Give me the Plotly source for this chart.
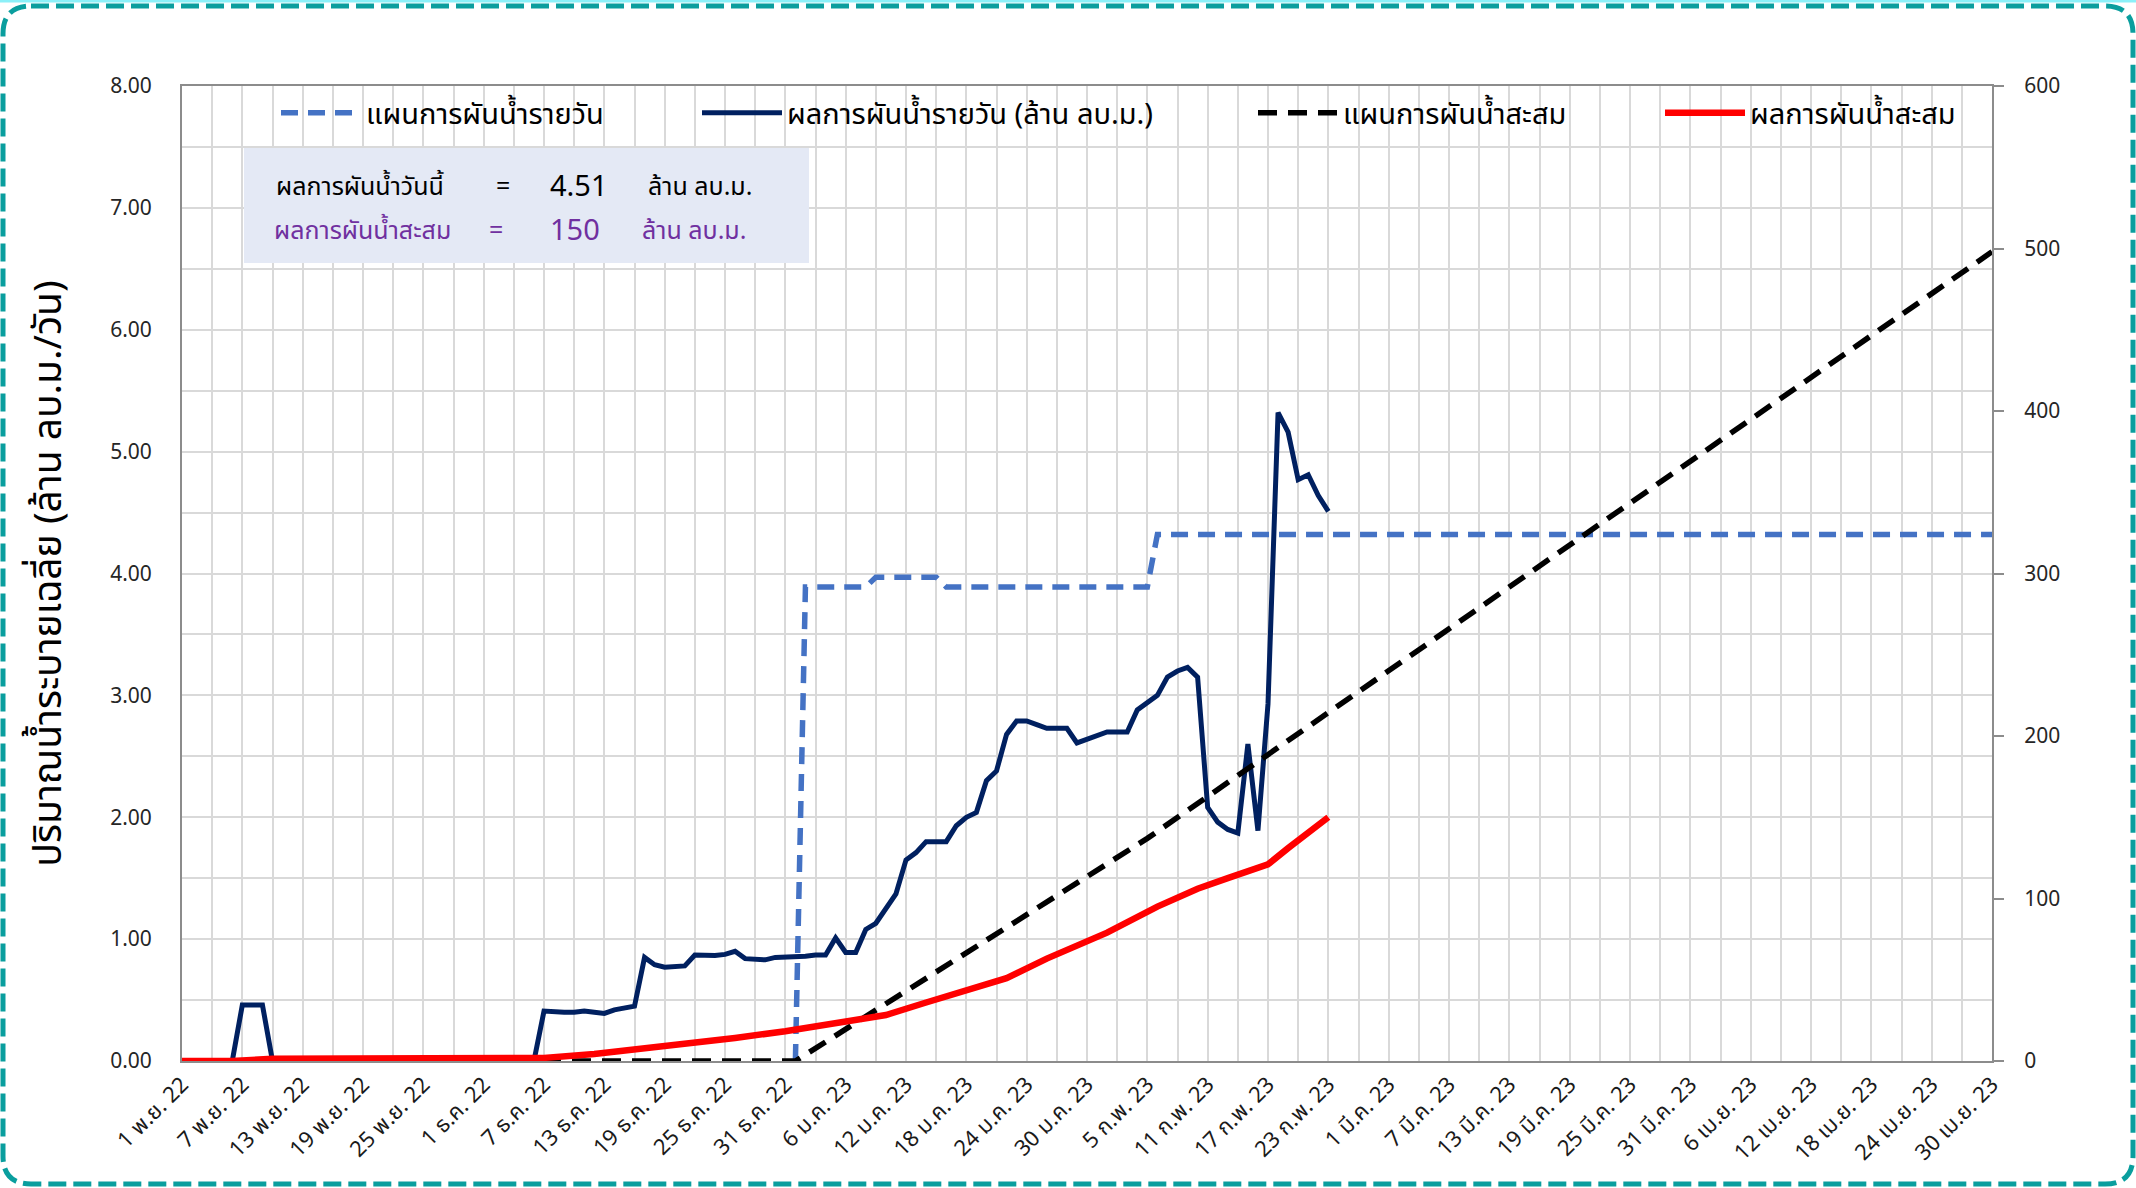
import pandas as pd
import plotly.graph_objects as go

# ---------------- data ----------------
# daily actual diversion (million m3/day), 1 Nov 2022 .. 23 Feb 2023
actual_daily = [
    0, 0, 0, 0, 0, 0, 0.46, 0.46, 0.46, 0,
    0, 0, 0, 0, 0, 0, 0, 0, 0, 0,
    0, 0, 0, 0, 0, 0, 0, 0, 0, 0,
    0, 0, 0, 0, 0, 0, 0.41, 0.40, 0.40, 0.40,
    0.41, 0.40, 0.39, 0.42, 0.43, 0.45, 0.85, 0.79, 0.77, 0.78,
    0.78, 0.87, 0.865, 0.865, 0.875, 0.90, 0.84, 0.83, 0.83, 0.85,
    0.85, 0.85, 0.86, 0.87, 0.87, 1.01, 0.89, 0.89, 1.08, 1.13,
    1.25, 1.37, 1.65, 1.71, 1.80, 1.80, 1.80, 1.93, 2.00, 2.04,
    2.30, 2.38, 2.68, 2.79, 2.79, 2.76, 2.73, 2.73, 2.73, 2.61,
    2.64, 2.67, 2.70, 2.70, 2.70, 2.88, 2.94, 3.00, 3.15, 3.20,
    3.23, 3.15, 2.08, 1.96, 1.90, 1.87, 2.60, 1.89, 2.93, 5.32,
    5.16, 4.77, 4.81, 4.64, 4.51,
]
actual_daily_dates = pd.date_range("2022-11-01", periods=len(actual_daily), freq="D")

# daily plan (million m3/day)
plan_daily_dates = ["2023-01-01", "2023-01-02", "2023-01-08", "2023-01-09", "2023-01-15",
                    "2023-01-16", "2023-02-05", "2023-02-06", "2023-04-30"]
plan_daily = [0, 3.89, 3.89, 3.97, 3.97, 3.89, 3.89, 4.32, 4.32]

# cumulative plan (million m3)
plan_cum_dates = ["2022-11-01", "2023-01-01", "2023-02-05", "2023-04-30"]
plan_cum = [0, 0, 137, 498]

# cumulative actual (million m3)
actual_cum_dates = ["2022-11-01", "2022-11-06", "2022-11-10", "2022-12-06", "2022-12-07",
                    "2022-12-12", "2022-12-16", "2022-12-21", "2022-12-26", "2022-12-31",
                    "2023-01-05", "2023-01-10", "2023-01-14", "2023-01-19", "2023-01-22",
                    "2023-01-26", "2023-02-01", "2023-02-06", "2023-02-10", "2023-02-13",
                    "2023-02-17", "2023-02-19", "2023-02-23"]
actual_cum = [0, 0, 1.4, 1.5, 1.9, 4.3, 7.0, 10.4, 14.2, 18.3, 22.8, 28.3, 36.0, 45.0,
              51.0, 63.0, 79.0, 95.0, 106.0, 112.5, 121.0, 131.0, 150.0]

tick_dates = pd.date_range("2022-11-01", "2023-04-30", freq="6D")
tick_labels = [
    "1 พ.ย. 22", "7 พ.ย. 22", "13 พ.ย. 22", "19 พ.ย. 22", "25 พ.ย. 22",
    "1 ธ.ค. 22", "7 ธ.ค. 22", "13 ธ.ค. 22", "19 ธ.ค. 22", "25 ธ.ค. 22", "31 ธ.ค. 22",
    "6 ม.ค. 23", "12 ม.ค. 23", "18 ม.ค. 23", "24 ม.ค. 23", "30 ม.ค. 23",
    "5 ก.พ. 23", "11 ก.พ. 23", "17 ก.พ. 23", "23 ก.พ. 23",
    "1 มี.ค. 23", "7 มี.ค. 23", "13 มี.ค. 23", "19 มี.ค. 23", "25 มี.ค. 23", "31 มี.ค. 23",
    "6 เม.ย. 23", "12 เม.ย. 23", "18 เม.ย. 23", "24 เม.ย. 23", "30 เม.ย. 23",
]

series_names = ["แผนการผันน้ำรายวัน", "ผลการผันน้ำรายวัน (ล้าน ลบ.ม.)",
                "แผนการผันน้ำสะสม", "ผลการผันน้ำสะสม"]

# ---------------- geometry helpers ----------------
W, H = 2136, 1188
L, R, T, B = 182, 1992, 86, 1061   # plot area in px


def px(x):
    return (x - L) / (R - L)


def py(y):
    return (B - y) / (B - T)


FONT = "Tahoma, 'Noto Sans Thai', 'Leelawadee UI', 'Noto Sans', sans-serif"

fig = go.Figure()

fig.add_trace(go.Scatter(
    x=plan_daily_dates, y=plan_daily, mode="lines", name=series_names[0],
    line=dict(color="#4472C4", width=5.5, dash="17px,10px"), yaxis="y", legend="legend"))
fig.add_trace(go.Scatter(
    x=actual_daily_dates, y=actual_daily, mode="lines", name=series_names[1],
    line=dict(color="#002060", width=5), yaxis="y", legend="legend2"))
fig.add_trace(go.Scatter(
    x=plan_cum_dates, y=plan_cum, mode="lines", name=series_names[2],
    line=dict(color="#000000", width=5.5, dash="19px,11px"), yaxis="y2", legend="legend3"))
fig.add_trace(go.Scatter(
    x=actual_cum_dates, y=actual_cum, mode="lines", name=series_names[3],
    line=dict(color="#FF0000", width=6.5), yaxis="y2", legend="legend4"))

grid = "#D9D9D9"
axis_line = "#8C8C8C"

fig.update_layout(
    width=W, height=H,
    margin=dict(l=L, r=W - R, t=T, b=H - B),
    paper_bgcolor="white", plot_bgcolor="white",
    font=dict(family=FONT, color="#262626"),
    xaxis=dict(
        type="date", range=["2022-11-01", "2023-04-30"],
        tickmode="array", tickvals=list(tick_dates), ticktext=tick_labels,
        tickangle=-45, tickfont=dict(size=22, color="#1a1a1a"),
        showgrid=True, gridcolor=grid, gridwidth=2,
        minor=dict(dtick=3 * 86400000, tick0="2022-11-01", showgrid=True,
                   gridcolor=grid, gridwidth=2),
        showline=True, linecolor=axis_line, linewidth=2, mirror=True,
        ticks="", zeroline=False,
    ),
    yaxis=dict(
        range=[0, 8], dtick=1, tickformat=".2f",
        tickfont=dict(size=21, color="#262626"), ticklabelstandoff=24,
        showgrid=True, gridcolor=grid, gridwidth=2,
        minor=dict(dtick=0.5, showgrid=True, gridcolor=grid, gridwidth=2),
        showline=True, linecolor=axis_line, linewidth=2, mirror=True,
        ticks="", zeroline=False,
        title=dict(text="ปริมาณน้ำระบายเฉลี่ย (ล้าน ลบ.ม./วัน)",
                   font=dict(size=39, color="#000000"), standoff=36),
    ),
    yaxis2=dict(
        range=[0, 600], dtick=100, overlaying="y", side="right",
        tickfont=dict(size=21, color="#262626"), ticklabelstandoff=16,
        showgrid=False, showline=True, linecolor=axis_line, linewidth=2,
        ticks="outside", ticklen=10, tickcolor=axis_line, tickwidth=2,
        zeroline=False,
    ),
    showlegend=True,
)

leg_common = dict(orientation="h", yanchor="middle", y=py(113), xanchor="left",
                  bgcolor="rgba(0,0,0,0)", font=dict(size=29, color="#000000"),
                  itemwidth=80)
fig.update_layout(
    legend=dict(x=px(279 - 3), **leg_common),
    legend2=dict(x=px(700 - 3), **leg_common),
    legend3=dict(x=px(1256 - 3), **leg_common),
    legend4=dict(x=px(1663 - 3), **leg_common),
)

shapes = []
# info box
shapes.append(dict(type="rect", xref="paper", yref="paper",
                   x0=px(244), x1=px(809), y0=py(263), y1=py(148),
                   fillcolor="#E4E9F5", line=dict(width=0), layer="above"))

# outer dashed rounded frame
x0, x1, y0, y1, r = 3, 2133, 6, 1184, 28
path = (f"M {px(x0 + r)},{py(y0)} L {px(x1 - r)},{py(y0)} "
        f"Q {px(x1)},{py(y0)} {px(x1)},{py(y0 + r)} "
        f"L {px(x1)},{py(y1 - r)} Q {px(x1)},{py(y1)} {px(x1 - r)},{py(y1)} "
        f"L {px(x0 + r)},{py(y1)} Q {px(x0)},{py(y1)} {px(x0)},{py(y1 - r)} "
        f"L {px(x0)},{py(y0 + r)} Q {px(x0)},{py(y0)} {px(x0 + r)},{py(y0)} Z")
shapes.append(dict(type="rect", xref="paper", yref="paper",
                   x0=px(0), x1=px(W), y0=py(2.5), y1=py(0),
                   fillcolor="#8CF0F8", line=dict(width=0), layer="above"))
shapes.append(dict(type="path", xref="paper", yref="paper", path=path,
                   line=dict(color="#0A9E9E", width=5, dash="18px,7px"), layer="above"))
fig.update_layout(shapes=shapes)

today_val = f"{actual_daily[-1]:.2f}"
cum_val = f"{actual_cum[-1]:.0f}"
ann = []
row1, row2 = py(187), py(231)
black, purple = "#000000", "#7030A0"
for txt, xl, yy, col in [
    ("ผลการผันน้ำวันนี้", 274, row1, black), ("=", 494, row1, black),
    (today_val, 548, row1, black), ("ล้าน ลบ.ม.", 646, row1, black),
    ("ผลการผันน้ำสะสม", 272, row2, purple), ("=", 487, row2, purple),
    (cum_val, 548, row2, purple), ("ล้าน ลบ.ม.", 640, row2, purple),
]:
    size = 29 if txt in (today_val, cum_val) else 25
    ann.append(dict(text=txt, x=px(xl), y=yy, xref="paper", yref="paper",
                    xanchor="left", yanchor="middle", showarrow=False,
                    font=dict(size=size, color=col, family=FONT)))
fig.update_layout(annotations=ann)

fig.write_html("out.html", config={"displayModeBar": False},
               post_script="document.body.style.margin='0px';")
